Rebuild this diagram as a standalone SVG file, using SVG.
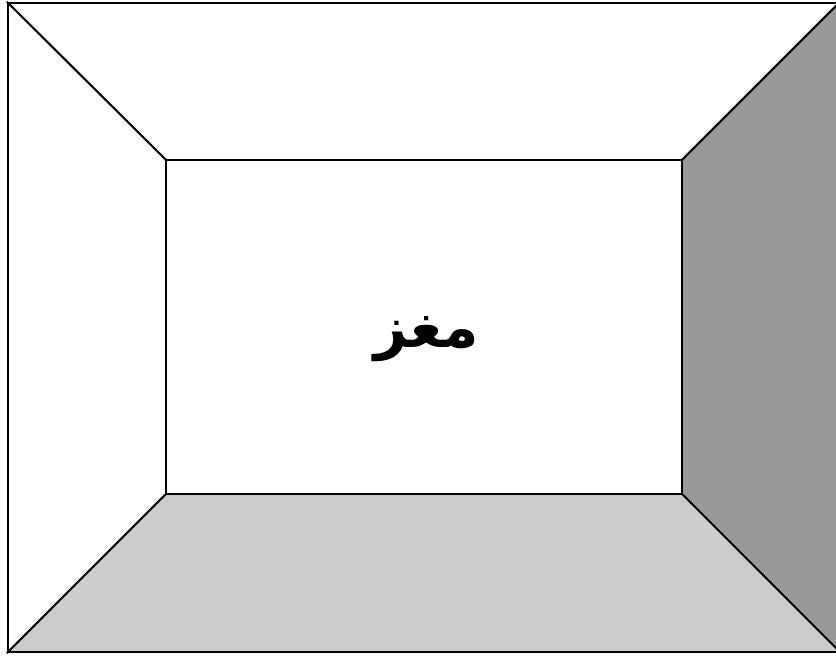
<svg xmlns="http://www.w3.org/2000/svg" width="836" height="657" viewBox="0 0 836 657">
<style>
.w{stroke:#000;stroke-width:2;stroke-linejoin:miter}
.t{font-family:"DejaVu Sans","Noto Sans",sans-serif;font-weight:bold;font-size:58px;fill:#000}
</style>
<rect x="0" y="0" width="836" height="657" fill="#fff"/>
<g id="room">
<polygon id="ceiling" class="w" points="8,3 839,3 682,160 166,160" fill="#fff"/>
<polygon id="leftwall" class="w" points="8,3 166,160 166,494 8,652" fill="#fff"/>
<polygon id="rightwall" class="w" points="839,3 839,652 682,494 682,160" fill="#999"/>
<polygon id="floor" class="w" points="8,652 166,494 682,494 840,652" fill="#ccc"/>
<rect id="backwall" class="w" x="166" y="160" width="516" height="334" fill="#fff"/>
<rect id="frame" class="w" x="8" y="3" width="832" height="649" fill="none"/>
</g>
<g id="label"><text class="t" x="426" y="347" text-anchor="middle" direction="rtl">مغز</text></g>
</svg>
